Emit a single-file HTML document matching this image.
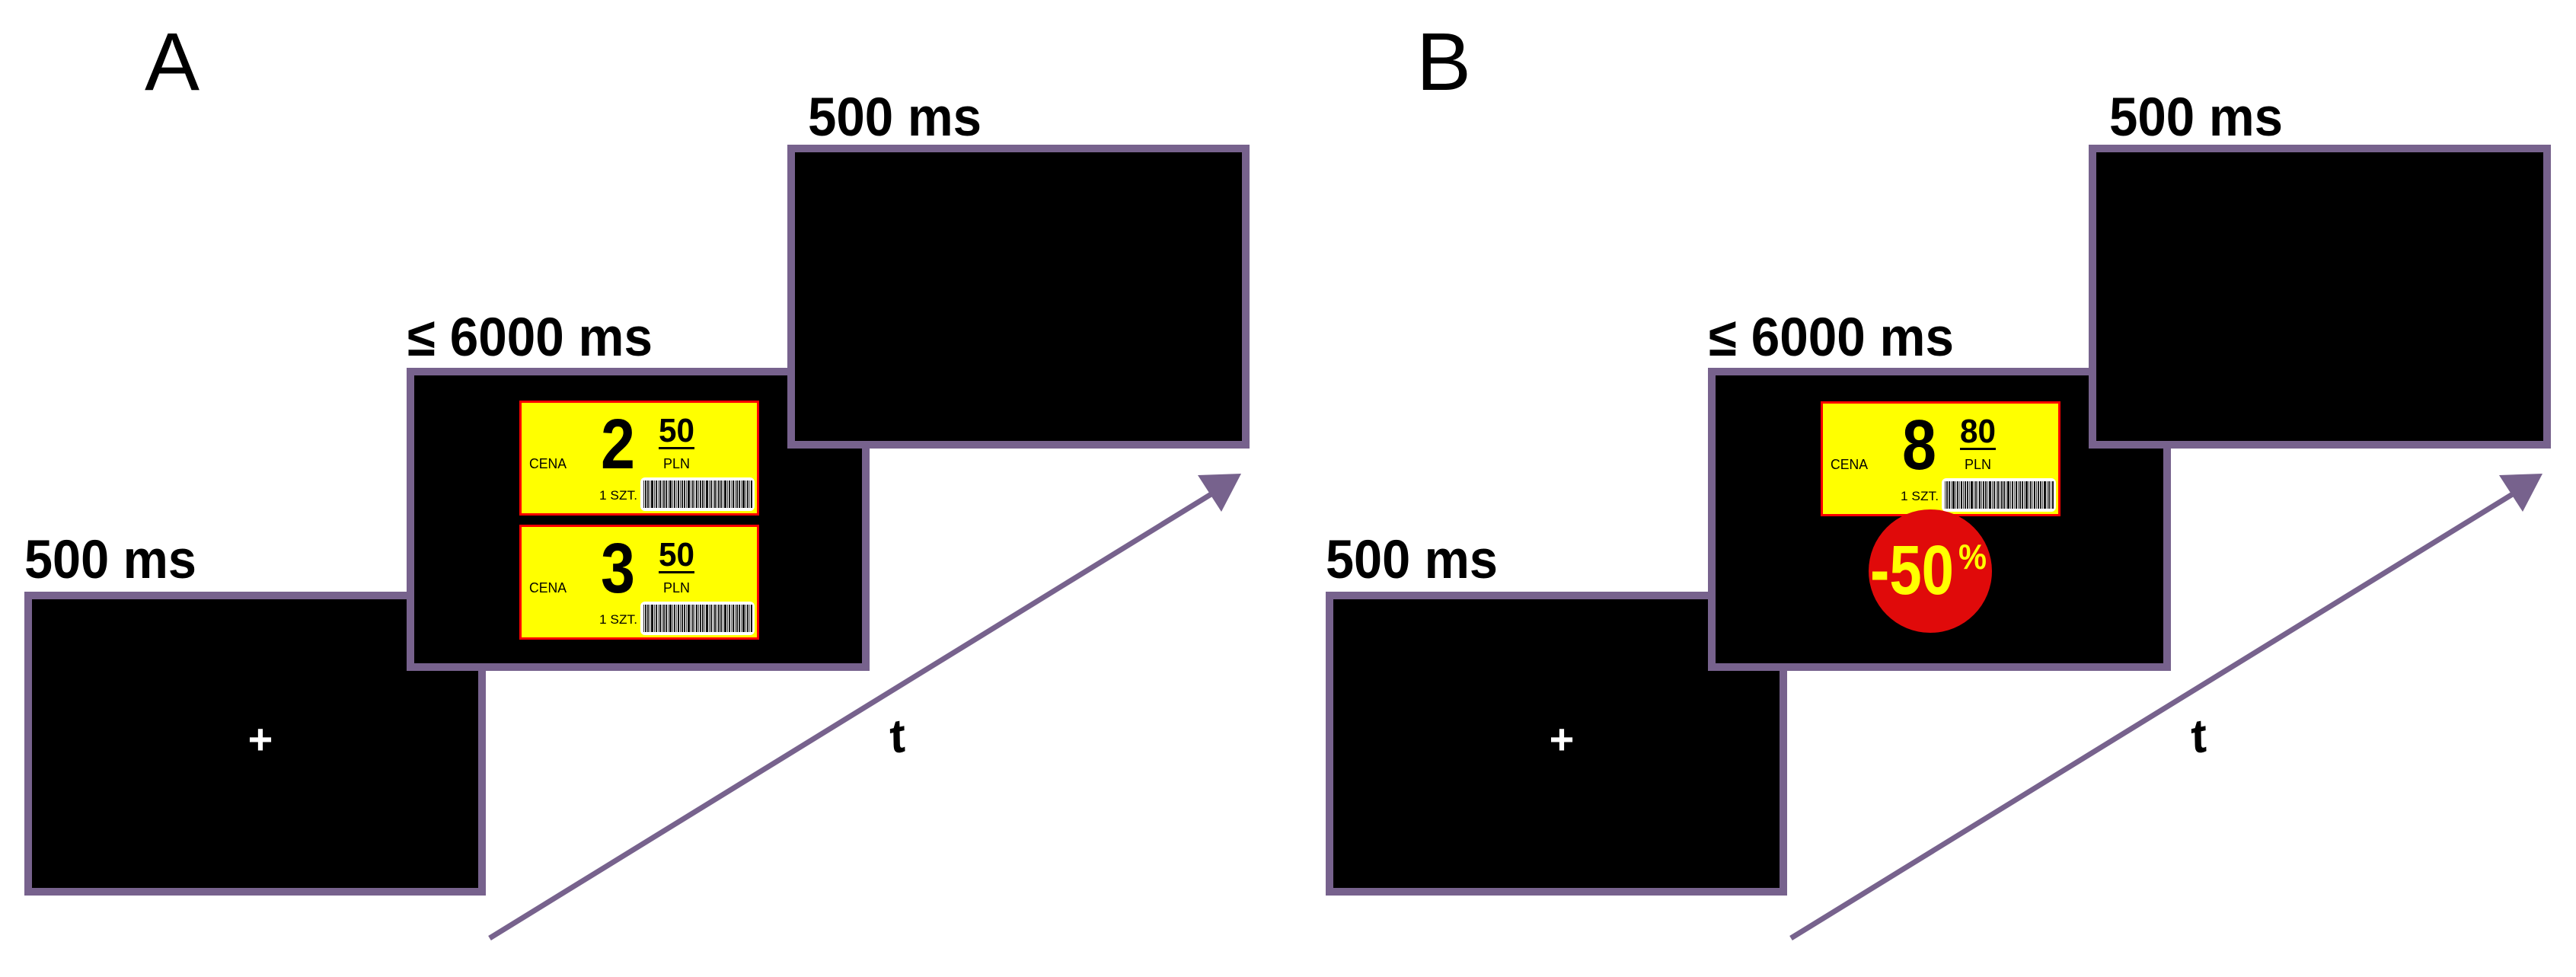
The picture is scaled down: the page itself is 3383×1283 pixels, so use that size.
<!DOCTYPE html>
<html><head><meta charset="utf-8"><style>html,body{margin:0;padding:0;background:#fff}svg{display:block}</style></head>
<body>
<svg width="3383" height="1283" viewBox="0 0 3383 1283" xmlns="http://www.w3.org/2000/svg" font-family="Liberation Sans, sans-serif">
<defs>
<pattern id="bc" width="24" height="40" patternUnits="userSpaceOnUse">
<rect x="0" y="0" width="2" height="40" fill="#222"/><rect x="3" y="0" width="1" height="40" fill="#444"/><rect x="5" y="0" width="3" height="40" fill="#111"/><rect x="9" y="0" width="1" height="40" fill="#333"/><rect x="11" y="0" width="2" height="40" fill="#222"/><rect x="14" y="0" width="1" height="40" fill="#555"/><rect x="16" y="0" width="2" height="40" fill="#111"/><rect x="19" y="0" width="1" height="40" fill="#333"/><rect x="21" y="0" width="2" height="40" fill="#222"/>
</pattern>
<g id="tagbase">
<rect x="1.5" y="1.5" width="312" height="148" fill="#ffff00" stroke="#ff0000" stroke-width="3"/>
<text x="13" y="89" font-size="18" textLength="49" lengthAdjust="spacingAndGlyphs">CENA</text>
<rect x="183" y="61" width="47" height="3" fill="#000"/>
<text x="189" y="89" font-size="18" textLength="35" lengthAdjust="spacingAndGlyphs">PLN</text>
<text x="105" y="130" font-size="17" textLength="50" lengthAdjust="spacingAndGlyphs">1 SZT.</text>
<rect x="159" y="101" width="150" height="44" rx="6" fill="#fff"/>
<rect x="163" y="105" width="143" height="36" fill="url(#bc)"/>
</g>
<g id="scene">
<rect x="37" y="782" width="596" height="389" fill="#000" stroke="#77628d" stroke-width="10"/>
<text x="342" y="990" font-size="56" font-weight="bold" fill="#fff" text-anchor="middle">+</text>
<rect x="539" y="488" width="598" height="388" fill="#000" stroke="#77628d" stroke-width="10"/>
<rect x="1039" y="195" width="597" height="389" fill="#000" stroke="#77628d" stroke-width="10"/>
<text x="32" y="759" font-size="71" font-weight="bold" textLength="226" lengthAdjust="spacingAndGlyphs">500 ms</text>
<text x="535" y="467" font-size="71" font-weight="bold" textLength="322" lengthAdjust="spacingAndGlyphs">≤ 6000 ms</text>
<text x="1061" y="178" font-size="71" font-weight="bold" textLength="228" lengthAdjust="spacingAndGlyphs">500 ms</text>
<line x1="643" y1="1232" x2="1597" y2="645" stroke="#77628d" stroke-width="7"/>
<polygon points="1630,622 1573,624 1604,672" fill="#77628d"/>
<text x="0" y="0" font-size="62" font-weight="bold" font-style="italic" transform="translate(1172,990) rotate(-12)">t</text>
</g>
</defs>

<text x="190" y="118" font-size="108">A</text>
<text x="1860" y="118" font-size="108">B</text>

<use href="#scene"/>
<g transform="translate(682,526)">
<use href="#tagbase"/>
<text x="107" y="89" font-size="93" font-weight="bold" textLength="45" lengthAdjust="spacingAndGlyphs">2</text>
<text x="183" y="54" font-size="44" font-weight="bold" textLength="47" lengthAdjust="spacingAndGlyphs">50</text>
</g>
<g transform="translate(682,689)">
<use href="#tagbase"/>
<text x="107" y="89" font-size="93" font-weight="bold" textLength="45" lengthAdjust="spacingAndGlyphs">3</text>
<text x="183" y="54" font-size="44" font-weight="bold" textLength="47" lengthAdjust="spacingAndGlyphs">50</text>
</g>

<g transform="translate(1709,0)">
<use href="#scene"/>
</g>
<g transform="translate(2391,527)">
<use href="#tagbase"/>
<text x="107" y="89" font-size="93" font-weight="bold" textLength="45" lengthAdjust="spacingAndGlyphs">8</text>
<text x="183" y="54" font-size="44" font-weight="bold" textLength="47" lengthAdjust="spacingAndGlyphs">80</text>
</g>
<ellipse cx="2535" cy="750" rx="81" ry="81" fill="#e00a0a"/>
<text x="2456" y="780" font-size="92" font-weight="bold" fill="#ffff00" textLength="110" lengthAdjust="spacingAndGlyphs">-50</text>
<text x="2572" y="747" font-size="46" font-weight="bold" fill="#ffff00" textLength="37" lengthAdjust="spacingAndGlyphs">%</text>
</svg>
</body></html>
